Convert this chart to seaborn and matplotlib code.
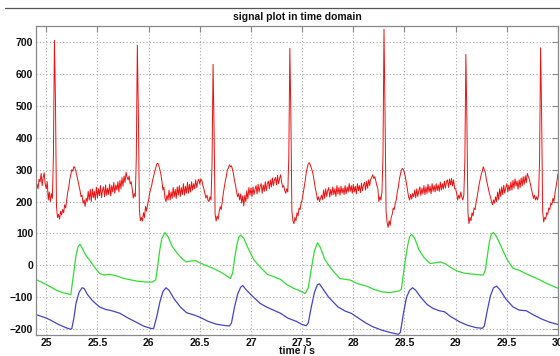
import numpy as np
import pandas as pd
import matplotlib
matplotlib.use("Agg")
import matplotlib.pyplot as plt
from matplotlib.lines import Line2D
import seaborn as sns

# ---- data ----
red_t0 = 24.90
red_dt = 0.01
red_values = [
    230, 255, 240, 270, 262, 288, 250, 275, 290, 255,   # 24.90
    240, 262, 205, 230, 200, 225, 210, 340, 705, 520,   # 25.00
    185, 150, 160, 145, 170, 158, 175, 165, 190, 180,   # 25.10
    205, 230, 245, 270, 285, 300, 295, 310, 305, 295,   # 25.20
    280, 265, 250, 235, 215, 220, 195, 205, 185, 210,   # 25.30
    200, 232, 205, 238, 200, 240, 212, 232, 205, 245,   # 25.40
    212, 240, 218, 250, 212, 236, 246, 215, 252, 220,   # 25.50
    242, 222, 255, 218, 250, 230, 260, 226, 252, 236,   # 25.60
    262, 230, 266, 240, 275, 248, 280, 260, 292, 276,   # 25.70
    268, 280, 255, 262, 240, 211, 225, 215, 340, 690,   # 25.80
    480, 175, 140, 150, 139, 165, 150, 185, 170, 190,   # 25.90
    205, 225, 240, 250, 268, 280, 295, 305, 318, 320,   # 26.00
    312, 300, 285, 265, 236, 245, 210, 200, 220, 205,   # 26.10
    236, 205, 230, 210, 244, 214, 238, 210, 246, 220,   # 26.20
    250, 216, 244, 222, 256, 220, 248, 226, 260, 226,   # 26.30
    254, 230, 262, 236, 256, 240, 268, 244, 262, 270,   # 26.40
    255, 270, 267, 250, 240, 225, 211, 220, 205, 200,   # 26.50
    215, 205, 320, 630, 420, 160, 139, 155, 145, 170,   # 26.60
    184, 175, 200, 226, 245, 265, 280, 299, 305, 315,   # 26.70
    309, 312, 300, 285, 265, 250, 230, 215, 225, 205,   # 26.80
    224, 195, 218, 186, 220, 200, 234, 208, 244, 220,   # 26.90
    242, 216, 246, 222, 238, 250, 224, 254, 230, 248,   # 27.00
    256, 226, 252, 232, 262, 234, 256, 264, 240, 268,   # 27.10
    246, 274, 250, 268, 276, 252, 282, 256, 272, 284,   # 27.20
    260, 245, 250, 235, 226, 240, 230, 340, 680, 470,   # 27.30
    170, 140, 131, 150, 140, 165, 155, 180, 175, 195,   # 27.40
    205, 225, 245, 265, 290, 305, 318, 322, 315, 305,   # 27.50
    295, 280, 260, 240, 225, 205, 215, 200, 210, 220,   # 27.60
    206, 236, 210, 240, 216, 234, 244, 214, 238, 220,   # 27.70
    246, 222, 240, 216, 250, 224, 244, 220, 248, 226,   # 27.80
    242, 222, 250, 224, 246, 230, 256, 232, 250, 226,   # 27.90
    254, 230, 248, 224, 256, 234, 250, 228, 258, 234,   # 28.00
    252, 260, 236, 264, 242, 268, 250, 270, 276, 284,   # 28.10
    272, 278, 265, 250, 240, 200, 215, 205, 230, 340,   # 28.20
    740, 480, 170, 135, 119, 140, 125, 150, 160, 180,   # 28.30
    175, 195, 205, 230, 245, 270, 285, 299, 304, 300,   # 28.40
    290, 275, 255, 235, 215, 205, 222, 208, 225, 215,   # 28.50
    236, 212, 240, 216, 234, 246, 219, 242, 224, 250,   # 28.60
    222, 246, 226, 254, 229, 248, 224, 256, 232, 250,   # 28.70
    230, 256, 234, 252, 232, 261, 236, 256, 239, 264,   # 28.80
    242, 262, 268, 244, 271, 252, 273, 249, 268, 240,   # 28.90
    240, 225, 205, 220, 210, 230, 215, 205, 220, 330,   # 29.00
    661, 450, 165, 131, 150, 140, 165, 155, 180, 175,   # 29.10
    198, 215, 235, 255, 270, 285, 295, 309, 300, 290,   # 29.20
    270, 255, 240, 225, 215, 200, 190, 205, 195, 215,   # 29.30
    200, 230, 206, 240, 216, 246, 222, 251, 226, 244,   # 29.40
    256, 230, 251, 234, 261, 236, 266, 242, 271, 249,   # 29.50
    264, 239, 268, 244, 274, 249, 278, 254, 281, 259,   # 29.60
    288, 278, 270, 255, 240, 225, 210, 220, 205, 215,   # 29.70
    205, 220, 330, 682, 470, 170, 136, 150, 145, 165,   # 29.80
    160, 180, 175, 195, 190, 210, 200, 225, 245, 265,   # 29.90
    288,                                                # 30.00
]

green_t = [24.90, 25.00, 25.04, 25.10, 25.16, 25.22, 25.24, 25.27, 25.29, 25.31,
           25.33, 25.35, 25.38, 25.42, 25.47, 25.52, 25.56, 25.62, 25.68, 25.75,
           25.82, 25.90, 25.98, 26.04, 26.07, 26.09, 26.11, 26.13, 26.16, 26.19,
           26.23, 26.28, 26.33, 26.37, 26.42, 26.46, 26.50, 26.56, 26.63, 26.70,
           26.76, 26.80, 26.82, 26.84, 26.86, 26.88, 26.90, 26.93, 26.97, 27.03,
           27.09, 27.16, 27.22, 27.29, 27.35, 27.42, 27.48, 27.53, 27.56, 27.59,
           27.62, 27.65, 27.68, 27.72, 27.76, 27.81, 27.87, 27.93, 27.97, 28.05,
           28.13, 28.20, 28.28, 28.36, 28.45, 28.47, 28.50, 28.53, 28.55, 28.57,
           28.60, 28.64, 28.69, 28.75, 28.80, 28.85, 28.90, 28.96, 29.01, 29.08,
           29.15, 29.22, 29.27, 29.29, 29.31, 29.33, 29.35, 29.37, 29.40, 29.45,
           29.50, 29.56, 29.62, 29.68, 29.76, 29.82, 29.88, 29.95, 30.02]
green_v = [-44, -60, -67, -78, -85, -90, -92, -20, 30, 58,
           66, 55, 35, 18, -5, -25, -30, -28, -32, -40,
           -45, -50, -52, -52, -45, 0, 50, 85, 103, 90,
           60, 38, 20, 11, 14, 15, 8, 0, -9, -20,
           -32, -41, -25, 20, 60, 88, 95, 85, 55, 17,
           -5, -28, -35, -44, -60, -72, -80, -88, -70, -10,
           45, 71, 55, 20, 0, -20, -41, -44, -46, -58,
           -65, -75, -83, -85, -80, -75, 0, 60, 90, 97,
           85, 50, 25, 6, 8, 11, 5, -8, -17, -24,
           -27, -29, -30, -15, 30, 75, 98, 103, 90, 55,
           20, -9, -15, -25, -36, -45, -55, -65, -74]

blue_t = [24.90, 25.00, 25.04, 25.12, 25.20, 25.24, 25.25, 25.27, 25.29, 25.32,
          25.35, 25.37, 25.40, 25.45, 25.52, 25.58, 25.64, 25.72, 25.80, 25.88,
          25.95, 26.03, 26.05, 26.08, 26.11, 26.14, 26.17, 26.20, 26.25, 26.31,
          26.37, 26.44, 26.50, 26.58, 26.66, 26.74, 26.79, 26.81, 26.84, 26.87,
          26.90, 26.92, 26.95, 27.00, 27.09, 27.15, 27.22, 27.29, 27.36, 27.44,
          27.50, 27.54, 27.56, 27.59, 27.62, 27.65, 27.67, 27.70, 27.76, 27.85,
          27.92, 27.98, 28.05, 28.12, 28.19, 28.28, 28.36, 28.44, 28.46, 28.49,
          28.52, 28.55, 28.58, 28.61, 28.66, 28.72, 28.78, 28.84, 28.89, 28.95,
          29.04, 29.12, 29.20, 29.26, 29.28, 29.31, 29.34, 29.37, 29.40, 29.43,
          29.49, 29.56, 29.62, 29.69, 29.76, 29.84, 29.92, 30.02]
blue_v = [-154, -165, -171, -185, -196, -200, -198, -165, -120, -85,
          -70, -72, -90, -110, -130, -138, -142, -150, -165, -178,
          -190, -198, -197, -160, -115, -82, -70, -78, -105, -130,
          -148, -155, -162, -175, -184, -188, -190, -180, -130, -90,
          -68, -63, -75, -92, -119, -130, -140, -150, -165, -175,
          -185, -189, -180, -130, -85, -60, -58, -72, -100, -130,
          -143, -150, -165, -180, -192, -203, -210, -216, -210, -150,
          -100, -78, -70, -78, -100, -122, -135, -142, -145, -160,
          -177, -188, -195, -197, -190, -140, -95, -70, -65, -75,
          -105, -130, -140, -142, -155, -168, -178, -187]

x_ticks = [25, 25.5, 26, 26.5, 27, 27.5, 28, 28.5, 29, 29.5, 30]
x_tick_labels = ["25", "25.5", "26", "26.5", "27", "27.5", "28", "28.5", "29", "29.5", "30"]
y_ticks = [-200, -100, 0, 100, 200, 300, 400, 500, 600, 700]

title = "signal plot in time domain"
x_label = "time / s"

# ---- build frames ----
red_t = red_t0 + red_dt * np.arange(len(red_values))
df_red = pd.DataFrame({"t": red_t, "v": red_values})
df_green = pd.DataFrame({"t": green_t, "v": green_v})
df_blue = pd.DataFrame({"t": blue_t, "v": blue_v})

sns.set_theme(style="white")
plt.rcParams["font.family"] = ["Liberation Sans", "DejaVu Sans"]

fig = plt.figure(figsize=(5.6, 3.56), dpi=100)
ax = fig.add_axes([36 / 560, 21 / 356, 522 / 560, 309 / 356])

sns.lineplot(data=df_red, x="t", y="v", ax=ax, color="#ee1111", linewidth=0.7,
             estimator=None, sort=False)
sns.lineplot(data=df_green, x="t", y="v", ax=ax, color="#33dd33", linewidth=0.9,
             estimator=None, sort=False)
sns.lineplot(data=df_blue, x="t", y="v", ax=ax, color="#4444cc", linewidth=0.9,
             estimator=None, sort=False)

ax.set_xlim(24.9, 30.0)
ax.set_ylim(-218, 750)
ax.set_xticks(x_ticks)
ax.set_xticklabels(x_tick_labels)
ax.set_yticks(y_ticks)

ax.grid(True, linestyle=(0, (1, 2)), color="#aaaaaa", linewidth=0.8)
ax.tick_params(direction="in", length=4, width=0.8, color="#888888",
               top=True, right=True, labelsize=7.5, pad=2, labelcolor="#111111")
for lbl in ax.get_xticklabels() + ax.get_yticklabels():
    lbl.set_fontweight("bold")
for side, sp in ax.spines.items():
    sp.set_color("#888888")
    sp.set_linewidth(0.9)

ax.set_title(title, fontsize=7.5, fontweight="bold", pad=4, color="#111111")
ax.set_xlabel(x_label, fontsize=7.5, fontweight="bold", labelpad=-1, color="#111111")
ax.set_ylabel("")

fig.add_artist(Line2D([5 / 560, 1.0], [1 - 8 / 356, 1 - 8 / 356],
                      transform=fig.transFigure, color="#555555", linewidth=0.9))

fig.savefig("out.png", dpi=100, facecolor="white")
